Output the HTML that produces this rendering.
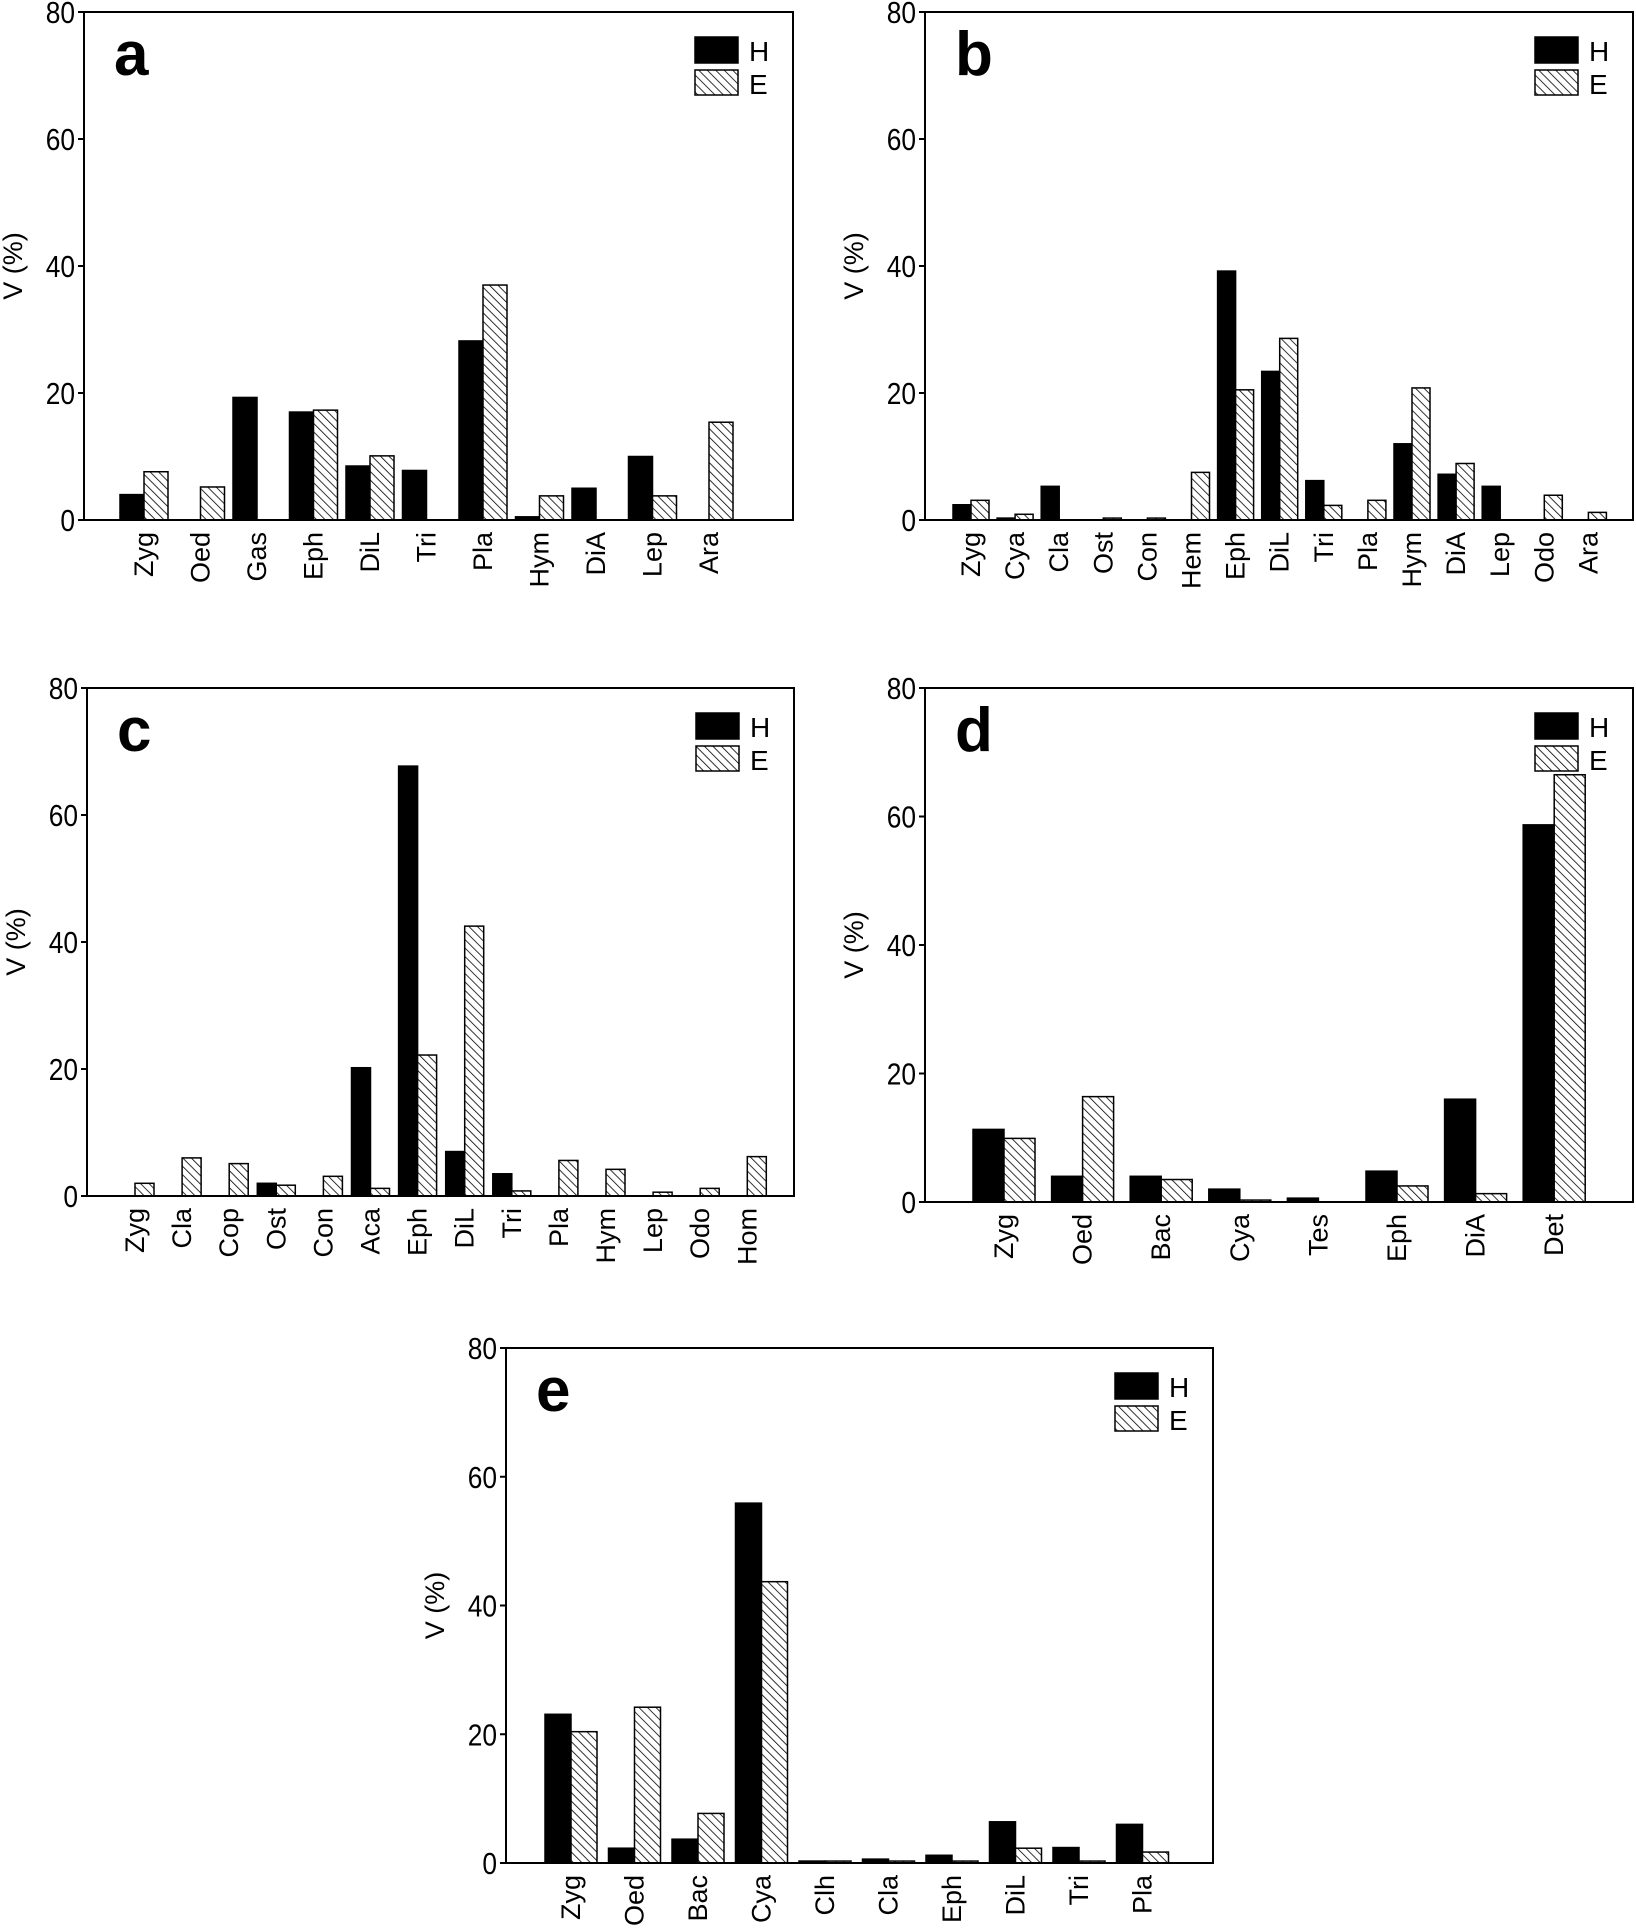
<!DOCTYPE html>
<html><head><meta charset="utf-8">
<style>
html,body{margin:0;padding:0;background:#fff;}
svg{display:block;}
text{font-family:"Liberation Sans",Arial,sans-serif;fill:#000;}
</style></head>
<body>
<svg id="fig" width="1636" height="1928" viewBox="0 0 1636 1928" xmlns="http://www.w3.org/2000/svg">
<defs>
<pattern id="hatch" patternUnits="userSpaceOnUse" width="6" height="6" patternTransform="rotate(-45)">
<rect width="6" height="6" fill="#fff"/>
<line x1="0" y1="0" x2="0" y2="6" stroke="#000" stroke-width="1.6"/>
</pattern>
</defs>
</svg>
<script>
const yTicks = [0, 20, 40, 60, 80];
const aCats = ["Zyg","Oed","Gas","Eph","DiL","Tri","Pla","Hym","DiA","Lep","Ara"];
const aH = [4, 0, 19.3, 17, 8.5, 7.8, 28.2, 0.5, 5, 10, 0];
const aE = [7.6, 5.2, 0, 17.3, 10.1, 0, 37, 3.8, 0, 3.8, 15.4];
const bCats = ["Zyg","Cya","Cla","Ost","Con","Hem","Eph","DiL","Tri","Pla","Hym","DiA","Lep","Odo","Ara"];
const bH = [2.4, 0.3, 5.3, 0, 0, 0, 39.2, 23.4, 6.2, 0, 12, 7.2, 5.3, 0, 0];
const bE = [3.1, 0.9, 0, 0.3, 0.3, 7.5, 20.5, 28.6, 2.3, 3.1, 20.8, 8.9, 0, 3.9, 1.2];
const cCats = ["Zyg","Cla","Cop","Ost","Con","Aca","Eph","DiL","Tri","Pla","Hym","Lep","Odo","Hom"];
const cH = [0, 0, 0, 2, 0, 20.2, 67.7, 7, 3.5, 0, 0, 0, 0, 0];
const cE = [2, 6, 5.1, 1.7, 3.1, 1.2, 22.2, 42.5, 0.8, 5.6, 4.2, 0.6, 1.2, 6.2];
const dCats = ["Zyg","Oed","Bac","Cya","Tes","Eph","DiA","Det"];
const dH = [11.3, 4, 4, 2, 0.6, 4.8, 16, 58.7];
const dE = [9.9, 16.4, 3.5, 0.3, 0, 2.5, 1.3, 66.5];
const eCats = ["Zyg","Oed","Bac","Cya","Clh","Cla","Eph","DiL","Tri","Pla"];
const eH = [23.1, 2.3, 3.7, 55.9, 0.3, 0.6, 1.2, 6.4, 2.4, 6];
const eE = [20.4, 24.2, 7.7, 43.7, 0.3, 0.3, 0.3, 2.3, 0.3, 1.7];

const NS = "http://www.w3.org/2000/svg";
const svg = document.getElementById('fig');
function mk(tag, attrs, parent){
  const el = document.createElementNS(NS, tag);
  for (const k in attrs) el.setAttribute(k, attrs[k]);
  parent.appendChild(el);
  return el;
}
function panel(id, letter, cats, H, E, L, R, T, B, first, step, bw){
  const g = mk('g', {}, svg);
  
  
  const y = v => B - (v / 80) * (B - T);
  const x = i => first + i * step;
  cats.forEach((c, i) => {
    const cx = x(i);
    if (H[i] > 0) {
      const r = mk('rect', {x: cx - bw, y: y(H[i]), width: bw, height: B - y(H[i]), fill: '#000', stroke: '#000', 'stroke-width': 1.5}, g);
      
      
    }
    if (E[i] > 0) {
      const r = mk('rect', {x: cx, y: y(E[i]), width: bw, height: B - y(E[i]), fill: 'url(#hatch)', stroke: '#000', 'stroke-width': 1.5}, g);
      
      
    }
    const t = mk('text', {x: 0, y: 0, 'font-size': 27, 'text-anchor': 'end', transform: `translate(${cx + 9},${B + 12}) rotate(-90)`}, g);
    t.textContent = c;
    
    
  });
  const f = mk('rect', {x: L, y: T, width: R - L, height: B - T, fill: 'none', stroke: '#000', 'stroke-width': 2}, g);
  
  
  yTicks.forEach(v => {
    mk('line', {x1: L - 6, x2: L, y1: y(v), y2: y(v), stroke: '#000', 'stroke-width': 2}, g);
    const t = mk('text', {x: 0, y: 0, 'font-size': 31, 'text-anchor': 'end', transform: `translate(${L - 9},${y(v) + 11}) scale(0.85,1)`}, g);
    t.textContent = v;
    
    
  });
  const yt = mk('text', {x: 0, y: 0, 'font-size': 27, 'text-anchor': 'middle', transform: `translate(${L - 62},${(T + B) / 2}) rotate(-90)`}, g);
  yt.textContent = 'V (%)';
  
  
  const pl = mk('text', {x: L + 30, y: T + 63, 'font-size': 62, 'font-weight': 'bold'}, g);
  pl.textContent = letter;
  
  
  const lx = R - 98, ly = T + 25;
  const l1 = mk('rect', {x: lx, y: ly, width: 43, height: 26, fill: '#000', stroke: '#000', 'stroke-width': 1.5}, g);
  
  
  const l2 = mk('rect', {x: lx, y: ly + 33, width: 43, height: 25, fill: 'url(#hatch)', stroke: '#000', 'stroke-width': 1.5}, g);
  
  
  const t1 = mk('text', {x: lx + 54, y: ly + 24, 'font-size': 28}, g);
  t1.textContent = 'H';
  
  
  const t2 = mk('text', {x: lx + 54, y: ly + 57, 'font-size': 28}, g);
  t2.textContent = 'E';
  
  
}
panel('a', 'a', aCats, aH, aE, 84, 793, 12, 520, 144, 56.5, 24);
panel('b', 'b', bCats, bH, bE, 925, 1633, 12, 520, 971, 44.1, 18);
panel('c', 'c', cCats, cH, cE, 87, 794, 688, 1196, 135, 47.1, 19);
panel('d', 'd', dCats, dH, dE, 925, 1633, 688, 1202, 1004, 78.6, 31);
panel('e', 'e', eCats, eH, eE, 506, 1213, 1348, 1863, 571, 63.5, 26);
</script>
</body></html>
